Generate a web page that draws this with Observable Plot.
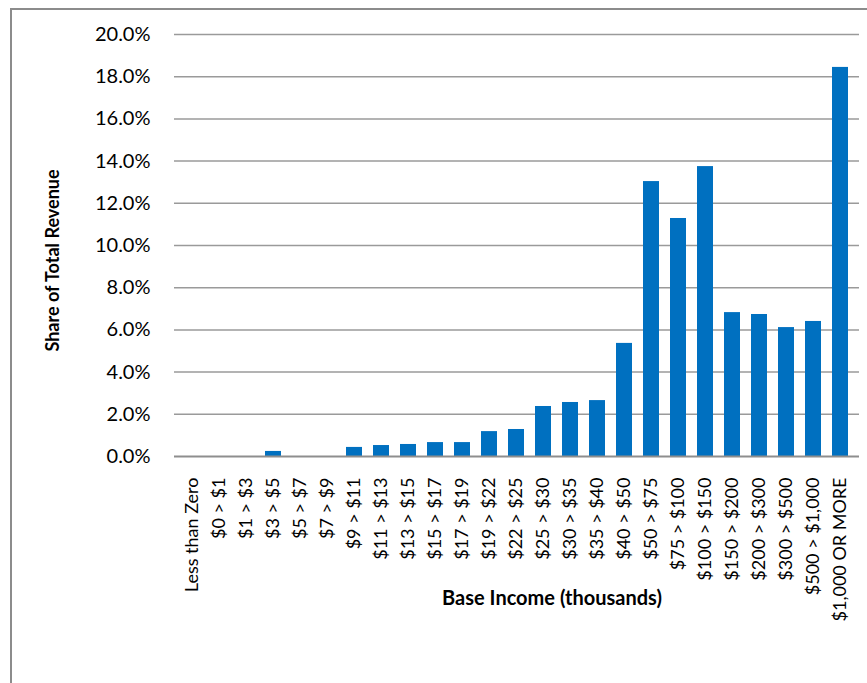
<!DOCTYPE html>
<html>
<head>
<meta charset="utf-8">
<script src="https://cdn.jsdelivr.net/npm/d3@7"></script>
<script src="https://cdn.jsdelivr.net/npm/@observablehq/plot@0.6"></script>
<style>
  html, body { margin: 0; padding: 0; background: #fff; overflow: hidden; }
  #wrap { position: relative; width: 867px; height: 683px; }
  #frame { position: absolute; left: 10px; top: 8px; width: 900px; height: 720px;
           border-left: 2px solid #8c8c8c; border-top: 2px solid #8c8c8c; box-sizing: border-box; }
  #chart { position: absolute; left: 0; top: 0; }
</style>
</head>
<body>
<div id="wrap"><div id="frame"></div><div id="chart"></div></div>
<script>
// Income brackets (thousands of dollars) and each bracket's share of total revenue
const brackets = [
  "Less than Zero", "$0 > $1", "$1 > $3", "$3 > $5", "$5 > $7", "$7 > $9",
  "$9 > $11", "$11 > $13", "$13 > $15", "$15 > $17", "$17 > $19", "$19 > $22",
  "$22 > $25", "$25 > $30", "$30 > $35", "$35 > $40", "$40 > $50", "$50 > $75",
  "$75 > $100", "$100 > $150", "$150 > $200", "$200 > $300", "$300 > $500",
  "$500 > $1,000", "$1,000 OR MORE"
];
const sharePct = [
  0, 0, 0, 0.24, 0, 0,
  0.43, 0.52, 0.57, 0.66, 0.66, 1.18,
  1.28, 2.37, 2.56, 2.65, 5.36, 13.03,
  11.28, 13.74, 6.82, 6.73, 6.11,
  6.40, 18.44
];
const yTicks = [0, 0.02, 0.04, 0.06, 0.08, 0.10, 0.12, 0.14, 0.16, 0.18, 0.20];

const yTitle = "Share of Total Revenue";
const xTitle = "Base Income (thousands)";

const rows = brackets.map((b, i) => ({bracket: b, share: sharePct[i] / 100}));

const font = "Lato, 'Open Sans', sans-serif";

const chart = Plot.plot({
  width: 867,
  height: 683,
  marginLeft: 174,
  marginRight: 8,
  marginTop: 34,
  marginBottom: 227,
  style: {fontFamily: font, fontSize: "16px", color: "#000", background: "transparent"},
  x: {domain: brackets, paddingInner: 0.4, paddingOuter: 0.15, label: null},
  y: {domain: [0, 0.2], label: null},
  marks: [
    Plot.ruleY(yTicks.slice(1), {stroke: "#9a9a9a", strokeWidth: 1.5}),
    Plot.barY(rows, {x: "bracket", y: "share", fill: "#0070C0"}),
    Plot.ruleY([0], {stroke: "#8e8e8e", strokeWidth: 2}),
    Plot.axisY({ticks: yTicks, tickFormat: d3.format(".1%"), tickSize: 0, tickPadding: 24,
                label: null, fontSize: 20}),
    Plot.axisX({tickSize: 0, tickRotate: -90, tickPadding: 21, label: null, fontSize: 18}),
    Plot.text([yTitle], {frameAnchor: "left", textAnchor: "middle", rotate: -90,
                         dx: -121, dy: 15, fontWeight: "bold", fontSize: 18}),
    Plot.text([xTitle], {frameAnchor: "bottom", textAnchor: "middle", dx: 35, dy: 148,
                         fontWeight: "bold", fontSize: 20})
  ]
});
document.getElementById("chart").appendChild(chart);
</script>
</body>
</html>
